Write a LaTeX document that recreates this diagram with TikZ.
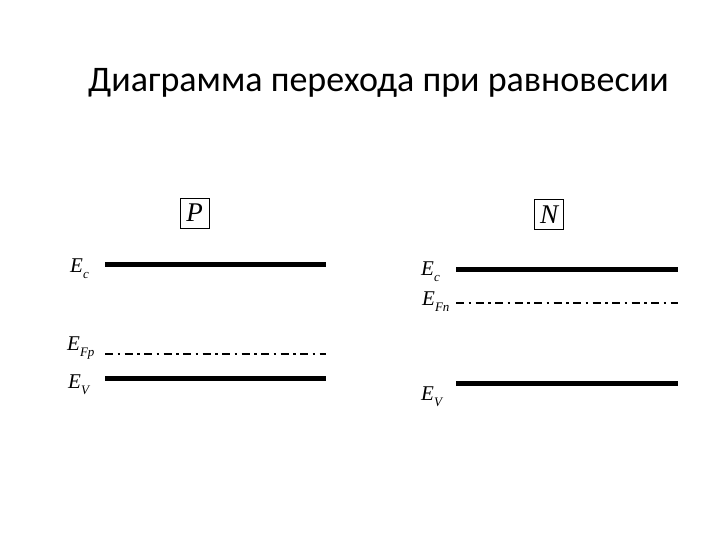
\documentclass[tikz,border=0pt]{standalone}
\usepackage{fontspec}
\setmainfont{Carlito}
\newfontfamily\tms{Liberation Serif}
\usetikzlibrary{positioning}

\newcommand{\lev}[1]{E\raisebox{-6.5pt}{\fontsize{13}{13}\selectfont #1}}

\tikzset{
  band/.style={line width=5pt},
  fermi/.style={line width=1.6pt,dash pattern=on 8pt off 4.5pt on 2.5pt off 4.5pt},
  elabel/.style={anchor=base west,inner sep=0pt,font=\tms\itshape\fontsize{21}{22}\selectfont},
  typebox/.style={draw,line width=0.8pt,inner sep=2pt,minimum width=29pt,minimum height=30pt,
    font=\tms\itshape\fontsize{27}{27}\selectfont}
}

\begin{document}
\begin{tikzpicture}[x=1pt,y=-1pt]
\useasboundingbox (0,0) rectangle (720,540);
\node[anchor=base west,inner sep=0pt] (title) at (88,92) {\fontsize{36}{40}\selectfont Диаграмма перехода при равновесии};

% P side
\node[typebox] (P) at (194.5,213) {P};
\coordinate (pEcA) at (105,264);
\coordinate (pEcB) at (326,264);
\coordinate (pFA) at (105,354);
\coordinate (pFB) at (326,354);
\coordinate (pEvA) at (105,378);
\coordinate (pEvB) at (326,378);
\draw[band] (pEcA) -- (pEcB);
\draw[fermi] (pFA) -- (pFB);
\draw[band] (pEvA) -- (pEvB);
\node[elabel] (pEc) at (70,272) {\lev{c}};
\node[elabel] (pEf) at (67,350) {\lev{Fp}};
\node[elabel] (pEv) at (68,388) {\lev{V}};

% N side
\node[typebox] (N) at (549,214.5) {N};
\coordinate (nEcA) at (456,269);
\coordinate (nEcB) at (678,269);
\coordinate (nFA) at (456,303);
\coordinate (nFB) at (678,303);
\coordinate (nEvA) at (456,383);
\coordinate (nEvB) at (678,383);
\draw[band] (nEcA) -- (nEcB);
\draw[fermi] (nFA) -- (nFB);
\draw[band] (nEvA) -- (nEvB);
\node[elabel] (nEc) at (421,275) {\lev{c}};
\node[elabel] (nEf) at (422,305) {\lev{Fn}};
\node[elabel] (nEv) at (421,400) {\lev{V}};
\end{tikzpicture}
\end{document}
